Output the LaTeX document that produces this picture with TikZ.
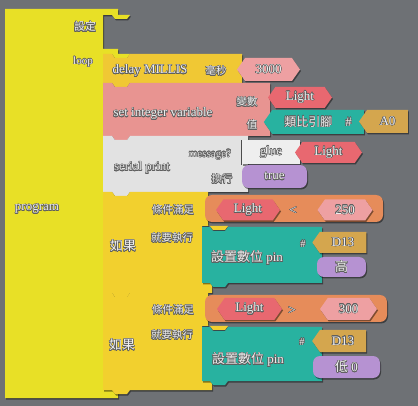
\documentclass[tikz,border=0pt]{standalone}
\usepackage{fontspec}
\setmainfont{Liberation Serif}
\newfontfamily\cjk{Noto Sans CJK TC}
\usepackage{contour}
\contourlength{0.45pt}
\usepackage{tikz}
\usetikzlibrary{shapes.symbols}
\usetikzlibrary{shadows}
\definecolor{bggray}{RGB}{110,113,117}
\definecolor{progyellow}{RGB}{232,224,38}
\definecolor{delayyellow}{RGB}{240,200,52}
\definecolor{setpink}{RGB}{232,148,145}
\definecolor{printgray}{RGB}{226,226,226}
\definecolor{gluegray}{RGB}{238,238,238}
\definecolor{ifyellow}{RGB}{242,208,46}
\definecolor{condorange}{RGB}{230,140,90}
\definecolor{varred}{RGB}{232,104,112}
\definecolor{numpink}{RGB}{238,160,162}
\definecolor{pinteal}{RGB}{40,178,160}
\definecolor{pingold}{RGB}{212,166,78}
\definecolor{boolpurple}{RGB}{182,146,210}
\definecolor{txtwhite}{RGB}{238,238,238}
\definecolor{txtedge}{RGB}{95,95,95}
\newcommand\embos[1]{\contour{txtedge}{#1}}
\tikzset{
    block/.style={drop shadow={shadow xshift=1pt,shadow yshift=-1.5pt,fill=black,opacity=.45}},
    progblock/.style={block, fill=progyellow},
    delayblock/.style={block, fill=delayyellow},
    setblock/.style={block, fill=setpink},
    printblock/.style={block, fill=printgray},
    ifblock/.style={block, fill=ifyellow},
    pinblock/.style={block, fill=pinteal},
    plug/.style={block, inner sep=0pt, text=txtwhite, font=\fontsize{13}{13}\selectfont},
    numhex/.style={plug, signal, signal to=west and east, signal pointer angle=110, fill=numpink},
    varhex/.style={numhex, fill=varred},
    pinplug/.style={plug, signal, signal to=west, signal pointer angle=110, fill=pingold},
    boolplug/.style={plug, rectangle, rounded corners=7pt, fill=boolpurple},
    condplug/.style={plug, rectangle, rounded corners=7pt, fill=condorange},
    lbl/.style={text=txtwhite, inner sep=0pt},
    small/.style={lbl, font=\fontsize{10.5}{10.5}\selectfont},
    big/.style={lbl, font=\fontsize{13}{13}\selectfont},
}
\begin{document}
\begin{tikzpicture}[x=1pt, y=-1pt]
	\useasboundingbox (0,0) rectangle (418,406);
	\fill[bggray] (0,0) rectangle (418,406);
	% program with setup and loop slots
	\fill[progblock] (5,9) -- (118,9) -- (118,15) -- (130,15) -- (127,19) -- (115,19) -- (112,15) -- (103,15)
		-- (103,49) -- (118,49) -- (118,54) -- (130,54) -- (127,58) -- (115,58) -- (112,54) -- (103,54)
		-- (103,390) -- (118,390) -- (118,398) -- (5,398) -- cycle;
	\node[small, font=\fontsize{11}{11}\selectfont] (setup) at (85,27) {\embos{\cjk 設定}};
	\node[small, font=\fontsize{11}{11}\selectfont] (loop) at (83,62) {\embos{loop}};
	\node[big] (program) at (37,209) {\embos{program}};
	% delay
	\fill[delayblock] (103,54) -- (112,54) -- (115,58) -- (127,58) -- (130,54) -- (242,54) -- (242,83)
		-- (130,83) -- (127,87) -- (115,87) -- (112,83) -- (103,83) -- cycle;
	\node[big] (delay) at (150,71) {\embos{delay MILLIS}};
	\node[small] (ms) at (216,71) {\embos{\cjk 毫秒}};
	\node[numhex, minimum width=63pt, minimum height=23pt] (n3000) at (268.5,69.5) {\embos{3000}};
	% set integer variable
	\fill[setblock] (103,83) -- (112,83) -- (115,87) -- (127,87) -- (130,83) -- (270,83) -- (270,136)
		-- (130,136) -- (127,140) -- (115,140) -- (112,136) -- (103,136) -- cycle;
	\node[big] (setvar) at (163,114) {\embos{set integer variable}};
	\node[small] (varname) at (247,102) {\embos{\cjk 變數}};
	\node[small] (value) at (252,125) {\embos{\cjk 值}};
	\node[varhex, minimum width=64pt, minimum height=21pt] (setlight) at (300,97.5) {\embos{Light}};
	\node[pinplug, fill=pinteal, minimum width=100pt, minimum height=24pt] (analog) at (318,122) {\embos{{\cjk\fontsize{12}{12}\selectfont 類比引腳}\quad\#}};
	\node[pinplug, minimum width=49pt, minimum height=23pt] (a0) at (387.5,121.5) {\embos{A0}};
	% serial print
	\fill[printblock] (103,136) -- (112,136) -- (115,140) -- (127,140) -- (130,136) -- (248,136) -- (248,192)
		-- (130,192) -- (127,196) -- (115,196) -- (112,192) -- (103,192) -- cycle;
	\node[big, text=black!12] (serial) at (142,168) {\embos{serial print}};
	\node[small, text=black!12, font=\fontsize{11}{11}\selectfont] (message) at (210,155) {\embos{message?}};
	\node[small, text=black!12] (newline) at (222,179) {\embos{\cjk 換行}};
	\node[plug, fill=gluegray, text=black!12, minimum width=58pt, minimum height=24pt] (glue) at (271,152.5) {\embos{glue}};
	\draw[black!70, line width=1pt] (glue.north west) -- (glue.south west);
	\node[varhex, minimum width=67pt, minimum height=21pt] (printlight) at (328.5,152.5) {\embos{Light}};
	\node[boolplug, minimum width=65pt, minimum height=23pt] (true) at (274.5,176.5) {\embos{true}};
	% if light < 250
	\fill[ifblock] (103,192) -- (112,192) -- (115,196) -- (127,196) -- (130,192) -- (208,192) -- (208,226)
		-- (228,226) -- (225,230) -- (213,230) -- (210,226) -- (202,226) -- (202,283) -- (212,283) -- (212,293)
		-- (130,293) -- (127,297) -- (115,297) -- (112,293) -- (103,293) -- cycle;
	\node[big] (ifa) at (123,246) {\embos{\cjk 如果}};
	\node[small] (conda) at (173,210) {\embos{\cjk 條件滿足}};
	\node[small] (doa) at (172,238) {\embos{\cjk 就要執行}};
	\node[condplug, minimum width=178pt, minimum height=27pt] (cmpa) at (294,208.5) {};
	\node[varhex, minimum width=64pt, minimum height=21pt] (lighta) at (248,210) {\embos{Light}};
	\node[big] (lt) at (293,211) {\embos{\textless}};
	\node[numhex, minimum width=55pt, minimum height=21pt] (n250) at (345,210) {\embos{250}};
	\fill[pinblock] (202,227) -- (210,227) -- (213,231) -- (225,231) -- (228,227) -- (322,227) -- (322,283)
		-- (228,283) -- (225,287) -- (213,287) -- (210,283) -- (202,283) -- cycle;
	\node[big] (pina) at (247,258) {\embos{{\cjk 設置數位} pin}};
	\node[small] (hasha) at (303,244) {\embos{\#}};
	\node[pinplug, minimum width=54pt, minimum height=21pt] (d13a) at (343,242.5) {\embos{D13}};
	\node[boolplug, minimum width=49pt, minimum height=20pt] (high) at (341.5,267) {\embos{\cjk 高}};
	% if light > 300
	\fill[ifblock] (103,293) -- (112,293) -- (115,297) -- (127,297) -- (130,293) -- (208,293) -- (208,326)
		-- (228,326) -- (225,330) -- (213,330) -- (210,326) -- (202,326) -- (202,381) -- (212,381) -- (212,390)
		-- (130,390) -- (127,394) -- (115,394) -- (112,390) -- (103,390) -- cycle;
	\node[big] (ifb) at (122,345) {\embos{\cjk 如果}};
	\node[small] (condb) at (173,310) {\embos{\cjk 條件滿足}};
	\node[small] (dob) at (172,335) {\embos{\cjk 就要執行}};
	\node[condplug, minimum width=182pt, minimum height=27pt] (cmpb) at (296,308.5) {};
	\node[varhex, minimum width=65pt, minimum height=22pt] (lightb) at (249.5,309) {\embos{Light}};
	\node[big] (gt) at (292,311) {\embos{\textgreater}};
	\node[numhex, minimum width=57pt, minimum height=22pt] (n300) at (348.5,309) {\embos{300}};
	\fill[pinblock] (202,327) -- (210,327) -- (213,331) -- (225,331) -- (228,327) -- (322,327) -- (322,381)
		-- (228,381) -- (225,385) -- (213,385) -- (210,381) -- (202,381) -- cycle;
	\node[big] (pinb) at (248,360) {\embos{{\cjk 設置數位} pin}};
	\node[small] (hashb) at (302,342) {\embos{\#}};
	\node[pinplug, minimum width=54pt, minimum height=22pt] (d13b) at (343,341) {\embos{D13}};
	\node[boolplug, minimum width=67pt, minimum height=22pt] (low) at (346.5,367) {\embos{{\cjk 低} 0}};
\end{tikzpicture}
\end{document}
